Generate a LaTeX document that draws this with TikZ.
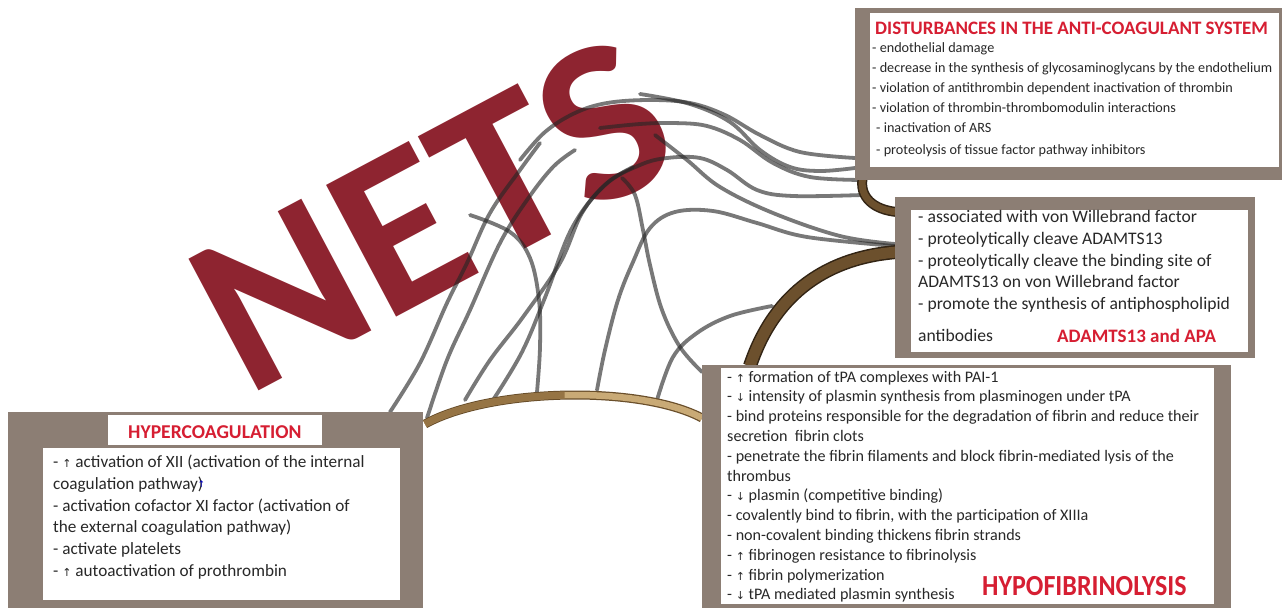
\documentclass[tikz,border=0pt]{standalone}
\usepackage{fontspec}
\setmainfont{Carlito}
\newfontfamily\arrf{DejaVu Sans}
\definecolor{boxc}{RGB}{140,126,116}
\definecolor{redt}{RGB}{214,30,50}
\definecolor{netsc}{RGB}{142,36,48}
\definecolor{brownd}{RGB}{108,80,45}
\definecolor{browne}{RGB}{50,36,20}
\definecolor{tanc}{RGB}{201,170,118}
\definecolor{tand}{RGB}{150,116,68}
\definecolor{tane}{RGB}{105,78,42}
\definecolor{txt}{RGB}{40,40,40}
\newcommand{\upa}{{\arrf\fontsize{11}{11}\selectfont ↑}}
\newcommand{\dna}{{\arrf\fontsize{11}{11}\selectfont ↓}}
\begin{document}
\begin{tikzpicture}[x=1pt,y=-1pt,
  strand/.style={draw=black!85, line width=3.8pt, opacity=0.62, line cap=round},
  body/.style={anchor=base west, inner sep=0pt, text=txt},
  trf/.style={body, font=\fontsize{14.2}{18}\selectfont},
  mdf/.style={body, font=\fontsize{17.6}{20}\selectfont},
  brf/.style={body, font=\fontsize{16.1}{19}\selectfont},
  blf/.style={body, font=\fontsize{17.2}{19}\selectfont},
  ttl/.style={anchor=base west, inner sep=0pt, text=redt, font=\fontsize{19}{22}\selectfont\bfseries}]
\useasboundingbox (0,0) rectangle (1282,608);
\fill[white] (0,0) rectangle (1282,608);

% NETS
\node[font=\fontsize{230}{230}\selectfont\bfseries, text=netsc, rotate=28, inner sep=0pt] (nets) at (432,214) {\scalebox{1.03}[1]{NETS}};

% strands
\draw[strand] plot[smooth, tension=0.6] coordinates {(520,160) (545,132) (575,113) (607,103) (650,100) (690,103) (725,115) (760,135) (800,152) (855,158)};
\draw[strand] plot[smooth, tension=0.6] coordinates {(640,94) (690,104) (730,122) (760,150) (790,167) (820,171) (855,168)};
\draw[strand] plot[smooth, tension=0.6] coordinates {(600,128) (640,124) (673,123) (707,126) (740,140) (773,163) (810,177) (862,180)};
\draw[strand] plot[smooth, tension=0.6] coordinates {(493,400) (522,352) (546,295) (572,228) (605,185) (640,165) (667,158) (700,158) (727,170) (757,190) (793,196) (862,195)};
\draw[strand] plot[smooth, tension=0.6] coordinates {(655,135) (687,160) (720,187) (773,213) (840,236) (895,244)};
\draw[strand] plot[smooth, tension=0.6] coordinates {(597,390) (605,350) (618,300) (633,262) (650,228) (675,212) (713,211) (757,223) (807,237) (895,246)};
\draw[strand] plot[smooth, tension=0.6] coordinates {(540,143) (520,170) (490,213) (467,263) (447,303) (420,363) (390,412)};
\draw[strand] plot[smooth, tension=0.6] coordinates {(427,418) (447,360) (470,310) (500,243) (527,200) (553,167) (575,150)};
\draw[strand] plot[smooth, tension=0.6] coordinates {(633,167) (607,183) (582,213) (560,263) (523,317) (490,360) (465,400)};
\draw[strand] plot[smooth, tension=0.6] coordinates {(470,215) (510,232) (530,258) (539,300) (540,347) (537,392)};
\draw[strand] plot[smooth, tension=0.6] coordinates {(657,400) (673,357) (697,333) (730,316) (772,306)};
\draw[strand] plot[smooth, tension=0.6] coordinates {(702,372) (680,347) (662,310) (650,265) (643,230) (635,195) (622,178)};

% brown arcs
\draw[line width=14pt, browne] (750,366) .. controls (772,300) and (820,258) .. (897,252);
\draw[line width=11pt, brownd] (750,366) .. controls (772,300) and (820,258) .. (897,252);
\draw[line width=10pt, browne] (863,176) .. controls (858,198) and (875,210) .. (897,212);
\draw[line width=7pt, brownd] (863,176) .. controls (858,198) and (875,210) .. (897,212);
\draw[line width=9pt, tane] (425,424) .. controls (490,388) and (640,385) .. (702,418);
\draw[line width=6.5pt, tanc] (425,424) .. controls (490,388) and (640,385) .. (702,418);
\draw[line width=7pt, tand] (425,424) .. controls (457.5,406) and (511.25,396.25) .. (564.6,395.1);

% boxes
\fill[boxc] (855,8) rectangle (1282,180);
\fill[white] (870,13) rectangle (1279,167);
\fill[boxc] (895,197) rectangle (1255,358);
\fill[white] (911,210) rectangle (1248,352);
\fill[boxc] (702,365) rectangle (1231,608);
\fill[white] (721,368) rectangle (1214,604);
\fill[boxc] (8,412) rectangle (423,608);
\fill[white] (108,415) rectangle (322,445);
\fill[white] (43,448) rectangle (400,600);

% top-right text
\node[ttl] (trt) at (875,34) {DISTURBANCES IN THE ANTI-COAGULANT SYSTEM};
\node[trf] (tr1) at (872,52) {- endothelial damage};
\node[trf] (tr2) at (872,72) {- decrease in the synthesis of glycosaminoglycans by the endothelium};
\node[trf] (tr3) at (872,92) {- violation of antithrombin dependent inactivation of thrombin};
\node[trf] (tr4) at (872,112) {- violation of thrombin-thrombomodulin interactions};
\node[trf] (tr5) at (876,132) {- inactivation of ARS};
\node[trf] (tr6) at (876,154) {- proteolysis of tissue factor pathway inhibitors};

% middle text
\node[mdf] (md1) at (918,222) {- associated with von Willebrand factor};
\node[mdf] (md2) at (918,244) {- proteolytically cleave ADAMTS13};
\node[mdf] (md3) at (918,266) {- proteolytically cleave the binding site of};
\node[mdf] (md4) at (918,287) {ADAMTS13 on von Willebrand factor};
\node[mdf] (md5) at (918,309) {- promote the synthesis of antiphospholipid};
\node[mdf] (md6) at (918,341) {antibodies};
\node[ttl] (mdt) at (1057,342) {ADAMTS13 and APA};

% bottom-right text
\node[brf] (br1) at (727,382) {- \upa{} formation of tPA complexes with PAI-1};
\node[brf] (br2) at (727,401.8) {- \dna{} intensity of plasmin synthesis from plasminogen under tPA};
\node[brf] (br3) at (727,421.6) {- bind proteins responsible for the degradation of fibrin and reduce their};
\node[brf] (br4) at (727,441.4) {secretion\ \ fibrin clots};
\node[brf] (br5) at (727,461.2) {- penetrate the fibrin filaments and block fibrin-mediated lysis of the};
\node[brf] (br6) at (727,481) {thrombus};
\node[brf] (br7) at (727,500.8) {- \dna{} plasmin (competitive binding)};
\node[brf] (br8) at (727,520.6) {- covalently bind to fibrin, with the participation of XIIIa};
\node[brf] (br9) at (727,540.4) {- non-covalent binding thickens fibrin strands};
\node[brf] (br10) at (727,560.2) {- \upa{} fibrinogen resistance to fibrinolysis};
\node[brf] (br11) at (727,580) {- \upa{} fibrin polymerization};
\node[brf] (br12) at (727,599.8) {- \dna{} tPA mediated plasmin synthesis};
\node[anchor=base west, inner sep=0pt, text=redt, font=\fontsize{26}{30}\selectfont\bfseries] (hypo) at (982,595) {\scalebox{1}[1.12]{HYPOFIBRINOLYSIS}};

% bottom-left text
\node[ttl, font=\fontsize{19.6}{22}\selectfont\bfseries] (blt) at (128,438) {HYPERCOAGULATION};
\node[blf] (bl1) at (53,467) {- \upa{} activation of XII (activation of the internal};
\node[blf] (bl2) at (53,489) {coagulation pathway)};
\node[anchor=center, inner sep=0pt, text=blue!75!black, font=\arrf\fontsize{9}{9}\selectfont] (blu) at ([xshift=-2pt,yshift=5pt]bl2.base east) {↑};
\node[blf] (bl3) at (53,511) {- activation cofactor XI factor (activation of};
\node[blf] (bl4) at (53,532) {the external coagulation pathway)};
\node[blf] (bl5) at (53,554) {- activate platelets};
\node[blf] (bl6) at (53,576) {- \upa{} autoactivation of prothrombin};
\end{tikzpicture}
\end{document}
